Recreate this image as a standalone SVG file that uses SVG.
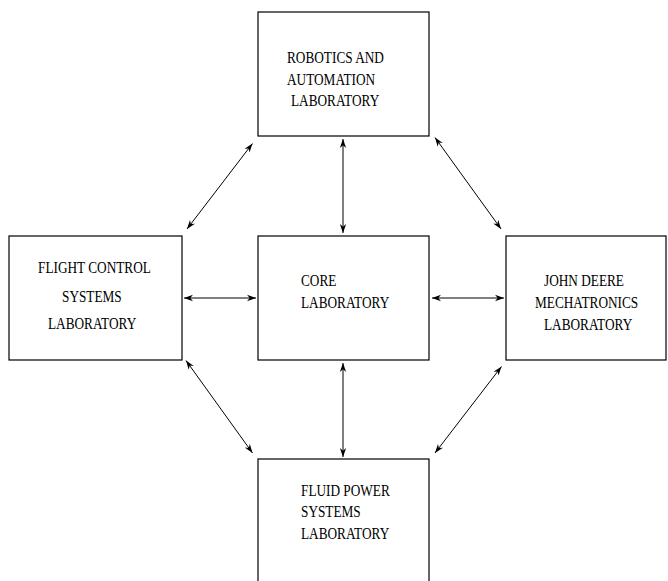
<svg xmlns="http://www.w3.org/2000/svg" width="668" height="581" viewBox="0 0 668 581">
<style>
.box{fill:#fff;stroke:#000;stroke-width:1.2}
.t{font-family:"Liberation Serif","Times New Roman",serif;font-size:16.6px;fill:#000}
.c{stroke:#000;stroke-width:1;fill:none;marker-start:url(#ah);marker-end:url(#ah)}
</style>
<defs>
<marker id="ah" viewBox="0 0 10 8" refX="10" refY="4" markerWidth="9" markerHeight="7.2" markerUnits="userSpaceOnUse" orient="auto-start-reverse">
<path d="M0,0.5 L10,4 L0,7.5 L3,4 Z" fill="#000"/>
</marker>
</defs>
<rect width="668" height="581" fill="#fff"/>
<g id="connectors">
<line class="c" x1="343" y1="139" x2="343" y2="233"/>
<line class="c" x1="343" y1="363" x2="343" y2="457"/>
<line class="c" x1="184" y1="298" x2="256" y2="298"/>
<line class="c" x1="432" y1="298" x2="504" y2="298"/>
<line class="c" x1="252.5" y1="143.5" x2="187" y2="229"/>
<line class="c" x1="435" y1="137.5" x2="501" y2="229"/>
<line class="c" x1="186" y1="360.5" x2="252.5" y2="453"/>
<line class="c" x1="501.5" y1="366.5" x2="435" y2="453"/>
</g>
<g id="robotics">
<rect class="box" x="258" y="12" width="171" height="124"/>
<text class="t" transform="translate(287,63) scale(0.8,1)">ROBOTICS AND</text>
<text class="t" transform="translate(287,85) scale(0.8,1)">AUTOMATION</text>
<text class="t" transform="translate(291,106) scale(0.8,1)">LABORATORY</text>
</g>
<g id="flight">
<rect class="box" x="9" y="236" width="173" height="124"/>
<text class="t" transform="translate(38,273) scale(0.8,1)">FLIGHT CONTROL</text>
<text class="t" transform="translate(62,302) scale(0.8,1)">SYSTEMS</text>
<text class="t" transform="translate(48,329) scale(0.8,1)">LABORATORY</text>
</g>
<g id="core">
<rect class="box" x="258" y="236" width="171" height="124"/>
<text class="t" transform="translate(301,286) scale(0.8,1)">CORE</text>
<text class="t" transform="translate(301,308) scale(0.8,1)">LABORATORY</text>
</g>
<g id="johndeere">
<rect class="box" x="506" y="236" width="160" height="124"/>
<text class="t" transform="translate(544,286) scale(0.8,1)">JOHN DEERE</text>
<text class="t" transform="translate(535,308) scale(0.8,1)">MECHATRONICS</text>
<text class="t" transform="translate(544,330) scale(0.8,1)">LABORATORY</text>
</g>
<g id="fluid">
<rect class="box" x="258" y="459" width="171" height="140"/>
<text class="t" transform="translate(301,496) scale(0.8,1)">FLUID POWER</text>
<text class="t" transform="translate(301,517) scale(0.8,1)">SYSTEMS</text>
<text class="t" transform="translate(301,539) scale(0.8,1)">LABORATORY</text>
</g>
</svg>
